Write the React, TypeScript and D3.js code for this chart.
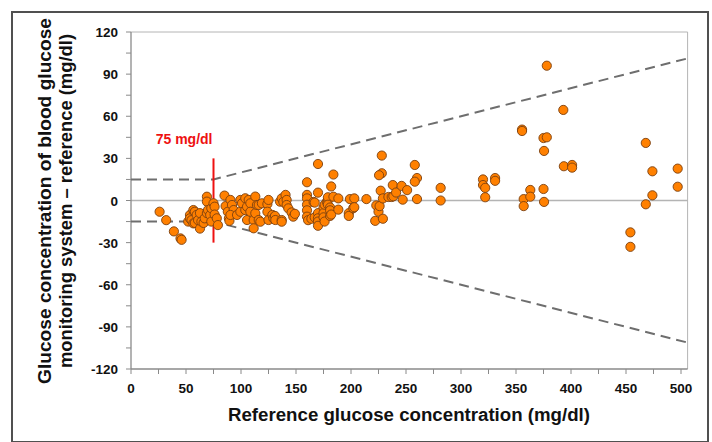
import React, { useEffect, useRef } from 'react';
import * as d3 from 'd3';

// reference glucose (mg/dl) vs. difference meter - reference (mg/dl)
const lowRange: [number, number][] = [
  [26, -8], [32, -14], [39, -22], [45, -27], [46, -28],
  [52, -15], [53.6, -10.3], [53.6, -12.7], [55, -14], [56.7, -6.8], [56.7, -16.3],
  [58, -8], [58, -16], [59.7, -10.3], [61, -14], [62.7, -9], [62.7, -20], [64, -15],
  [66, -16], [67, -12.7], [69, 2.7], [69, -0.8], [69, -9], [70, -6.8], [72, -10.3],
  [73, -15], [73, -5.5], [75, -2], [76, -4.4], [76, -10], [78, -12.7], [79, -17.5],
];

const midRange: [number, number][] = [
  [85, 3.5], [86, -4], [88, -8], [89, -12.7], [89.5, -14.5], [90.4, 0.4], [91.8, -3.2],
  [93.3, -6.8], [90.4, -10.3], [96.4, -10.3], [99.4, 0.4], [99.4, -8], [100.9, -2],
  [103.9, 1.6], [103.9, -6.8], [105.5, -4.4], [105.5, -13.9], [107, 0.4], [108.5, -2],
  [108.5, -8], [111.5, -13.9], [111.5, -19.8], [113, 2.8], [113, -9.1], [114.5, -3.2],
  [116.1, -3.2], [116.1, -13.9], [117.6, -15.1],
  [119, -2], [124, -2.5], [124, -8], [125, 0.4], [125, -13.9], [128.5, -10.3],
  [129.4, -12.7], [130.9, -11], [131.2, -13.9], [135.5, -0.8], [137, 1.5], [137, -13.9],
  [137, -15.1], [138.5, -1], [140.5, 4], [141.5, 0.4], [141.5, -3.2], [143, -5.6],
  [146, -8.5], [147.5, -11.5], [149, -9.5],
  [160, 13], [160, 4], [160, 1.5], [160, -3], [160, -7], [160, -11.5], [161, -14],
  [164, -13], [166, -1], [167, -1.5], [167, -12], [170, 26], [170, 5.6], [170, -9],
  [170, -12.7], [170, -15], [170, -18], [175, -5], [175, -9], [175, -12], [176, -15],
  [176, -3], [178, -1], [179, 0.4], [179, 2.3], [179, -3], [181, -5], [181, -7],
  [181, -11], [182, -10], [182, 10], [184, 18.5], [184, 2.7], [188.5, 1.5], [188.5, -6.5],
  [198, -9], [198, -11], [199, 1], [202, -5.5], [203, 1.5], [203, -4.8], [214, 1],
];

const highRange: [number, number][] = [
  [222, -14.5], [223, -3.5], [225, -8], [226, -4], [229, -13], [228, 32], [228, 19.4],
  [225.5, 18], [227, 7], [229, 1.5], [234, 2.5], [237, 2.5], [238.5, 3], [238, 11],
  [241, 5.7], [246, 10.4], [247, 0.6], [251, 7.4], [258, 25.3], [260, 16], [258, 13.4],
  [260, 1], [281.5, 9], [281.5, 0], [320, 15], [320, 11], [322, 9], [322, 2.3],
  [331, 16], [331, 14], [355.5, 50.5], [355.5, 49.5], [357, 1], [357, -4], [363, 7.5],
  [363, 2.7], [375, 8.2], [375.5, -1], [375, 44.5], [378, 45], [375.5, 35.3], [378, 96],
  [393, 64.5], [393.5, 24.4], [401, 25.3], [401, 23.4], [454, -22.7], [454, -33],
  [468, 41], [468, -2.7], [474, 20.8], [474, 3.7], [497, 22.7], [497, 9.8],
];

// ISO accuracy limits: +/-15 mg/dl below 75, +/-20% above
const upperLimit: [number, number][] = [[0, 15], [75, 15], [505, 101]];
const lowerLimit: [number, number][] = [[0, -15], [75, -15], [505, -101]];
const cutoffLine: [number, number][] = [[75, -30], [75, 30]];
const cutoffLabel = '75 mg/dl';

const xTicks = [0, 50, 100, 150, 200, 250, 300, 350, 400, 450, 500];
const xMinorTicks = d3.range(0, 525, 25);
const yTicks = [-120, -90, -60, -30, 0, 30, 60, 90, 120];
const yMinorTicks = d3.range(-120, 135, 15);

const xTitle = 'Reference glucose concentration (mg/dl)';
const yTitle1 = 'Glucose concentration of blood glucose';
const yTitle2 = 'monitoring system \u2013 reference (mg/dl)';

const W = 712;
const H = 442;
const font = '"Liberation Sans", Arial, sans-serif';

const App = () => {
  const svgRef = useRef(null);

  useEffect(() => {
    const svg = d3.select(svgRef.current);
    svg.selectAll('*').remove();

    const x = d3.scaleLinear().domain([0, 506]).range([131, 131 + 506 * 1.1]);
    const y = d3.scaleLinear().domain([-120, 120]).range([369, 32]);
    const [x0, x1] = x.range();
    const [y0, y1] = y.range();

    svg.append('rect')
      .attr('width', W).attr('height', H).attr('fill', '#fff');

    // outer frame
    svg.append('rect')
      .attr('x', 12).attr('y', 12).attr('width', 696).attr('height', 430)
      .attr('fill', 'none').attr('stroke', '#505050').attr('stroke-width', 2);

    // plot border (top/right)
    svg.append('path')
      .attr('d', `M${x0},${y1}H${x1}V${y0}`)
      .attr('fill', 'none').attr('stroke', '#b4b4b4').attr('stroke-width', 1);

    // zero line
    svg.append('line')
      .attr('x1', x0).attr('x2', x1).attr('y1', y(0)).attr('y2', y(0))
      .attr('stroke', '#b4b4b4').attr('stroke-width', 1.3);

    // axes
    const axisColor = '#8a8a8a';
    svg.append('line')
      .attr('x1', x0).attr('x2', x0).attr('y1', y1).attr('y2', y0)
      .attr('stroke', axisColor).attr('stroke-width', 1.3);
    svg.append('line')
      .attr('x1', x0).attr('x2', x1).attr('y1', y0).attr('y2', y0)
      .attr('stroke', axisColor).attr('stroke-width', 1.3);

    svg.append('g').selectAll('line').data(yMinorTicks).join('line')
      .attr('x1', x0 - 5).attr('x2', x0).attr('y1', d => y(d)).attr('y2', d => y(d))
      .attr('stroke', axisColor).attr('stroke-width', 1);
    svg.append('g').selectAll('line').data(xMinorTicks).join('line')
      .attr('x1', d => x(d)).attr('x2', d => x(d)).attr('y1', y0).attr('y2', y0 + 5)
      .attr('stroke', axisColor).attr('stroke-width', 1);

    svg.append('g').selectAll('text').data(yTicks).join('text')
      .attr('x', x0 - 13).attr('y', d => y(d) + 5)
      .attr('text-anchor', 'end')
      .style('font', `bold 13.5px ${font}`).attr('fill', '#111')
      .text(d => d);
    svg.append('g').selectAll('text').data(xTicks).join('text')
      .attr('x', d => x(d)).attr('y', y0 + 24)
      .attr('text-anchor', 'middle')
      .style('font', `bold 13.5px ${font}`).attr('fill', '#111')
      .text(d => d);

    // titles
    svg.append('text')
      .attr('x', 409).attr('y', 421)
      .attr('text-anchor', 'middle')
      .attr('textLength', 362).attr('lengthAdjust', 'spacingAndGlyphs')
      .style('font', `bold 18px ${font}`).attr('fill', '#111')
      .text(xTitle);
    svg.append('text')
      .attr('transform', 'translate(51,201) rotate(-90)')
      .attr('text-anchor', 'middle')
      .attr('textLength', 366).attr('lengthAdjust', 'spacingAndGlyphs')
      .style('font', `bold 18px ${font}`).attr('fill', '#111')
      .text(yTitle1);
    svg.append('text')
      .attr('transform', 'translate(72,201) rotate(-90)')
      .attr('text-anchor', 'middle')
      .attr('textLength', 334).attr('lengthAdjust', 'spacingAndGlyphs')
      .style('font', `bold 18px ${font}`).attr('fill', '#111')
      .text(yTitle2);

    // accuracy limits
    const line = d3.line<[number, number]>().x(d => x(d[0])).y(d => y(d[1]));
    [upperLimit, lowerLimit].forEach(lim => {
      svg.append('path')
        .datum(lim)
        .attr('d', line)
        .attr('fill', 'none')
        .attr('stroke', '#6e6e6e')
        .attr('stroke-width', 2)
        .attr('stroke-dasharray', '10,6');
    });

    // 75 mg/dl marker
    svg.append('path')
      .datum(cutoffLine)
      .attr('d', line)
      .attr('stroke', '#ee1111').attr('stroke-width', 2);
    svg.append('text')
      .attr('x', x(75) - 1).attr('y', y(40))
      .attr('text-anchor', 'end')
      .style('font', `bold 14px ${font}`).attr('fill', '#ee1111')
      .text(cutoffLabel);

    // points
    const points = [...lowRange, ...midRange, ...highRange];
    svg.append('g').selectAll('circle').data(points).join('circle')
      .attr('cx', d => x(d[0])).attr('cy', d => y(d[1]))
      .attr('r', 4.6)
      .attr('fill', '#ff8000')
      .attr('stroke', '#7a4010')
      .attr('stroke-width', 0.9);
  }, []);

  return (
    <svg
      ref={svgRef}
      width={W}
      height={H}
      style={{ position: 'absolute', left: 0, top: 0, display: 'block' }}
    ></svg>
  );
};

export default App;
